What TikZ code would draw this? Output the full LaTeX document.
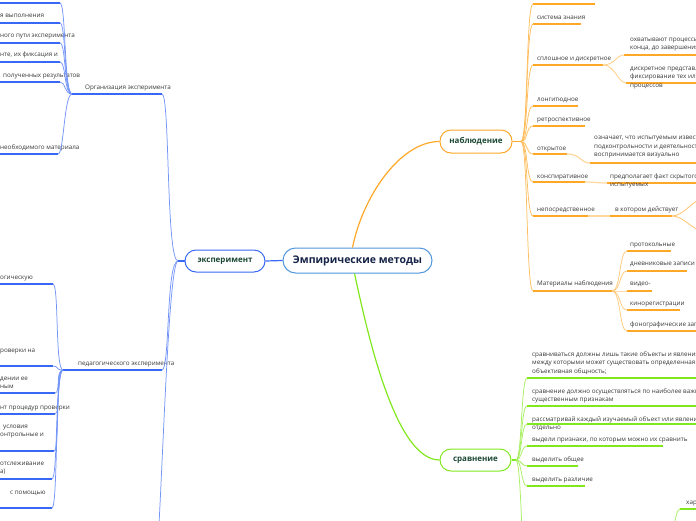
\documentclass[tikz,border=0pt]{standalone}
\usepackage{fontspec}
\setmainfont{Open Sans}
\definecolor{cB}{RGB}{56,104,245}
\definecolor{cC}{RGB}{80,150,220}
\definecolor{cO}{RGB}{255,168,40}
\definecolor{cG}{RGB}{130,232,30}
\definecolor{cT}{RGB}{55,55,55}
\definecolor{cL}{RGB}{28,72,52}
\definecolor{cN}{RGB}{20,35,70}
\tikzset{
  leaf/.style={font=\fontsize{6.3}{8.7}\selectfont, text=cT, inner sep=0pt, align=left, anchor=base west},
  ul/.style={draw=#1, line width=1.6pt},
  cn/.style={draw=#1, line width=0.75pt},
  topic/.style={rounded corners=11pt, fill=white, line width=1pt, font=\bfseries\fontsize{8}{9}\selectfont, text=cL, minimum height=22pt, inner xsep=0pt},
}
% name, x start, x end, y underline, x text, y baseline of last line, text, colour
\newcommand\mmleaf[8]{%
  \coordinate (#1-a) at (#2,#4);
  \coordinate (#1-b) at (#3,#4);
  \draw[ul=#8] (#1-a) -- (#1-b);
  \node[leaf] (#1-t) at (#5,#6) {#7};
}
\begin{document}
\begin{tikzpicture}[x=1pt,y=-1pt]
\useasboundingbox (0,0) rectangle (696,520);
\clip (0,0) rectangle (696,520);

% main topics
\node[topic, draw=cC, minimum width=149pt, minimum height=25pt, rounded corners=12.5pt,
      font=\bfseries\fontsize{10.5}{12}\selectfont, text=cN] (c) at (357.5,260.5) {Эмпирические методы};
\node[topic, draw=cB, minimum width=80pt] (e) at (225,261) {эксперимент};
\node[topic, draw=cO, minimum width=72pt, minimum height=23pt] (n) at (476,141.5) {наблюдение};
\node[topic, draw=cG, minimum width=71pt] (s) at (475.5,460) {сравнение};

\draw[cB, line width=1.2pt] (c.west) -- (e.east);
\draw[cO, line width=1.2pt] ([xshift=-5pt]c.north) .. controls +(10,-50) and +(-40,0) .. (n.west);
\draw[cG, line width=1.2pt] ([xshift=-3pt]c.south) .. controls +(12,55) and +(-45,0) .. (s.west);

% ---------------- наблюдение
\coordinate (nh) at (521,141.5);
\draw[cO, line width=1.6pt] (n.east) -- (nh);
\mmleaf{o0}{533}{595}{4}{537}{-1}{}{cO}
\mmleaf{o1}{533}{581}{24}{537}{19}{система знания}{cO}
\mmleaf{o2}{533}{603}{65}{537}{60}{сплошное и дискретное}{cO}
\mmleaf{o2x}{624}{705}{55}{630}{49.7}{охватывают процессы\\конца, до завершения}{cO}
\mmleaf{o2y}{626}{705}{83}{630}{87.4}{дискретное представление\\фиксирование тех или иных\\процессов}{cO}
\mmleaf{o3}{533}{578}{106}{537}{101}{лонгитюдное}{cO}
\mmleaf{o4}{533}{585}{126}{537}{121}{ретроспективное}{cO}
\mmleaf{o5}{533}{567}{154}{537}{150}{открытое}{cO}
\mmleaf{o5x}{590}{705}{163}{594}{156.9}{означает, что испытуемым известно\\подконтрольности и деятельности\\воспринимается визуально}{cO}
\mmleaf{o6}{533}{585}{182}{537}{178}{конспиративное}{cO}
\mmleaf{o6x}{607}{705}{183}{610}{186.7}{предполагает факт скрытого\\испытуемых}{cO}
\mmleaf{o7}{533}{588}{216}{537}{211}{непосредственное}{cO}
\mmleaf{o7x}{610}{672}{216}{615}{211}{в котором действует}{cO}
\mmleaf{o8}{533}{612}{291}{537}{285}{Материалы наблюдения}{cO}
\mmleaf{m1}{627}{671}{251}{630}{246}{протокольные}{cO}
\mmleaf{m2}{627}{687}{271}{630}{265}{дневниковые записи}{cO}
\mmleaf{m3}{627}{652}{291}{630}{285}{видео-}{cO}
\mmleaf{m4}{627}{680}{310}{630}{305}{кинорегистрации}{cO}
\mmleaf{m5}{627}{705}{331}{630}{326}{фонографические записи}{cO}
\foreach \nm in {o0,o1,o2,o3,o4,o5,o6,o7,o8}
  \draw[cn=cO!75] (nh) .. controls +(7,0) and +(-7,0) .. (\nm-a);
\draw[cn=cO!60] (o2-b) .. controls +(12,0) and +(-8,0) .. (o2x-a);
\draw[cn=cO!60] (o2-b) .. controls +(12,0) and +(-8,0) .. (o2y-a);
\draw[cn=cO!45, line width=1.2pt] (o5-b) .. controls +(14,0) and +(-10,0) .. (o5x-a);
\draw[cn=cO!45, line width=1.2pt] (o6-b) .. controls +(10,0) and +(-10,0) .. (o6x-a);
\draw[cn=cO!45, line width=1.2pt] (o7-b) -- (o7x-a);
\coordinate (o7u) at (703,199);
\coordinate (o7d) at (703,231);
\draw[cn=cO!70] (o7x-b) .. controls +(12,0) and +(-10,0) .. (o7u);
\draw[cn=cO!70] (o7x-b) .. controls +(12,0) and +(-10,0) .. (o7d);
\foreach \nm in {m1,m2,m3,m4,m5}
  \draw[cn=cO!60] (o8-b) .. controls +(9,0) and +(-8,0) .. (\nm-a);

% ---------------- сравнение
\coordinate (sh) at (516,460);
\draw[cG, line width=1.6pt] (s.east) -- (sh);
\mmleaf{g1}{527}{705}{378}{532}{373.4}{сравниваться должны лишь такие объекты и явления,\\между которыми может существовать определенная\\объективная общность;}{cG}
\mmleaf{g2}{527}{705}{406}{532}{401.7}{сравнение должно осуществляться по наиболее важным,\\существенным признакам}{cG}
\mmleaf{g3}{527}{705}{424}{532}{429.7}{рассматривай каждый изучаемый объект или явление\\отдельно}{cG}
\mmleaf{g4}{527}{663}{446}{532}{441}{выдели признаки, по которым можно их сравнить}{cG}
\mmleaf{g5}{527}{578}{466}{532}{461}{выделить общее}{cG}
\mmleaf{g6}{527}{585}{486}{532}{481}{выделить различие}{cG}
\mmleaf{g8}{680}{705}{509}{686}{504}{характеристика}{cG}
\foreach \nm in {g1,g2,g3,g4,g5,g6}
  \draw[cn=cG!70] (sh) .. controls +(6,0) and +(-6,0) .. (\nm-a);
\coordinate (g7) at (528,600);
\draw[cn=cG!70] (sh) .. controls +(6,0) and +(-6,0) .. (g7);
\coordinate (g8p) at (668,545);
\draw[cn=cG!70] (g8p) .. controls +(6,0) and +(-6,0) .. (g8-a);

% ---------------- эксперимент
\coordinate (eh) at (178,261);
\draw[cB, line width=1.4pt] (e.west) -- (eh);
\mmleaf{org}{72}{162}{94}{85}{89}{Организация эксперимента}{cB}
\mmleaf{ped}{63}{162}{370}{78}{365}{педагогического эксперимента}{cB}
\coordinate (ebot) at (152,600);
\draw[cn=cB!70] (eh) .. controls +(-12,0) and +(8,0) .. (org-b);
\draw[cn=cB!70] (eh) .. controls +(-12,0) and +(8,0) .. (ped-b);
\draw[cn=cB!70] (eh) .. controls +(-12,0) and +(8,0) .. (ebot);

\mmleaf{k0}{-10}{60}{3}{0}{-2}{}{cB}
\mmleaf{k1}{-10}{60}{23}{0}{17}{я выполнения}{cB}
\mmleaf{k2}{-10}{60}{43}{0}{37}{ного пути эксперимента}{cB}
\mmleaf{k3}{-10}{60}{62}{0}{56}{нте, их фиксация и}{cB}
\mmleaf{k4}{-10}{60}{82}{3}{77}{полученных результатов}{cB}
\mmleaf{k5}{-10}{58}{154}{0}{149}{необходимого материала}{cB}
\foreach \nm in {k0,k1,k2,k3,k4,k5}
  \draw[cn=cB!70] (org-a) .. controls +(-8,0) and +(6,0) .. (\nm-b);

\mmleaf{q1}{-10}{53}{284}{0}{279}{огическую}{cB}
\mmleaf{q2}{-10}{53}{366}{0}{352}{роверки на}{cB}
\mmleaf{q3}{-10}{55}{393}{0}{388.7}{дении ее\\ным}{cB}
\mmleaf{q4}{-10}{55}{414}{0}{409}{нт процедур проверки}{cB}
\mmleaf{q5}{-10}{54}{451}{0}{436.7}{\hspace*{3pt}условия\\онтрольные и}{cB}
\mmleaf{q6}{-10}{52}{479}{0}{473.7}{отслеживание\\а)}{cB}
\mmleaf{q7}{-10}{52}{508}{10}{494}{с помощью}{cB}
\foreach \nm in {q1,q2,q3,q4,q5,q6,q7}
  \draw[cn=cB!70] (ped-a) .. controls +(-8,0) and +(6,0) .. (\nm-b);
\end{tikzpicture}
\end{document}
